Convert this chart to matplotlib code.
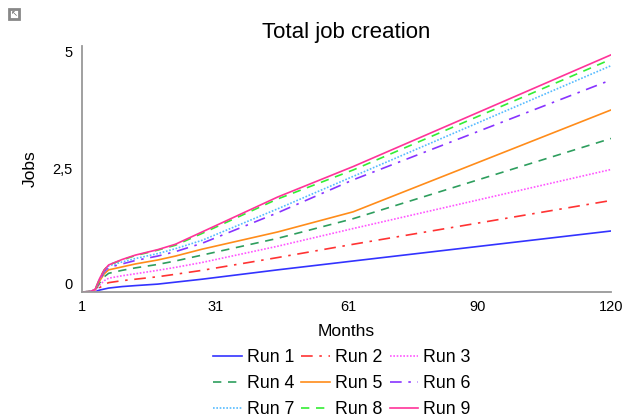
import matplotlib
matplotlib.use("Agg")
import matplotlib.pyplot as plt
from matplotlib.patches import Rectangle

plt.rcParams['font.family'] = ['Liberation Sans', 'DejaVu Sans']

months = [1, 3, 4, 5, 6, 7, 10, 13, 18, 22, 28, 45, 62, 120]
run1 = [0, 0.003, 0.01, 0.04, 0.06, 0.08, 0.11, 0.13, 0.16, 0.20, 0.26, 0.45, 0.63, 1.24]
run2 = [0, 0.005, 0.02, 0.09, 0.15, 0.19, 0.23, 0.26, 0.31, 0.36, 0.44, 0.70, 0.97, 1.86]
run3 = [0, 0.01, 0.03, 0.14, 0.23, 0.28, 0.33, 0.37, 0.44, 0.50, 0.60, 0.93, 1.29, 2.49]
run4 = [0, 0.01, 0.04, 0.19, 0.31, 0.38, 0.44, 0.49, 0.56, 0.63, 0.75, 1.09, 1.49, 3.12]
run5 = [0, 0.01, 0.05, 0.23, 0.37, 0.45, 0.51, 0.57, 0.65, 0.73, 0.87, 1.22, 1.63, 3.70]
run6 = [0, 0.01, 0.05, 0.25, 0.41, 0.50, 0.57, 0.64, 0.73, 0.82, 0.99, 1.61, 2.28, 4.31]
run7 = [0, 0.01, 0.06, 0.27, 0.43, 0.53, 0.61, 0.68, 0.78, 0.88, 1.05, 1.69, 2.35, 4.60]
run8 = [0, 0.01, 0.06, 0.28, 0.45, 0.55, 0.65, 0.74, 0.85, 0.95, 1.19, 1.89, 2.48, 4.73]
run9 = [0, 0.01, 0.06, 0.28, 0.45, 0.55, 0.66, 0.75, 0.86, 0.97, 1.22, 1.93, 2.55, 4.82]

labels = ["Run 1", "Run 2", "Run 3", "Run 4", "Run 5", "Run 6", "Run 7", "Run 8", "Run 9"]
series = [run1, run2, run3, run4, run5, run6, run7, run8, run9]
colors = ["#3333ff", "#ff3333", "#ff55ff", "#2e9e5e", "#ff8c1a", "#8833ff", "#55bbff", "#33ee33", "#ff3399"]
styles = ["-", (0, (7, 4, 1.5, 4)), (0, (1, 1)), (0, (5, 4)), "-", (0, (7, 4, 1.5, 4)), (0, (1, 1)), (0, (5, 4)), "-"]

xticks = [1, 31, 61, 90, 120]
yticks = [0, 2.5, 5]
yticklabels = ["0", "2,5", "5"]

fig = plt.figure(figsize=(6.24, 4.18), dpi=100)
ax = fig.add_axes([82/624, 1-292/418, (611-82)/624, (292-46)/418])

handles = []
for s, lab, c, ls in zip(series, labels, colors, styles):
    h, = ax.plot(months, s, color=c, linestyle=ls, linewidth=1.2, label=lab)
    handles.append(h)

ax.set_xlim(1, 120)
ax.set_ylim(0, 5)
ax.set_xticks(xticks)
ax.set_xticklabels([str(t) for t in xticks])
ax.set_yticks(yticks)
ax.set_yticklabels(yticklabels)
ax.tick_params(length=0, labelsize=10.5, colors="#000000")
ax.tick_params(axis='y', pad=7)
ax.tick_params(axis='x', pad=6)
ylab = ax.get_yticklabels()
ylab[0].set_va('bottom')
ylab[2].set_va('top')

for sp in ['top', 'right']:
    ax.spines[sp].set_visible(False)
for sp in ['left', 'bottom']:
    ax.spines[sp].set_color('#999999')
    ax.spines[sp].set_linewidth(1.3)

ax.set_title("Total job creation", fontsize=16, pad=6)
ax.set_xlabel("Months", fontsize=12.5, labelpad=7)
ax.set_ylabel("Jobs", fontsize=12.5, labelpad=10)

order = [0, 3, 6, 1, 4, 7, 2, 5, 8]
fig.legend([handles[i] for i in order], [labels[i] for i in order],
           loc='upper center', bbox_to_anchor=(342/624, 1-349/418), ncol=3,
           frameon=False, fontsize=12.8, handlelength=1.6, handletextpad=0.3,
           columnspacing=0.4, labelspacing=0.5, borderaxespad=0, borderpad=0)

# small corner icon
fig.patches.append(Rectangle((9/624, 1-19/418), 10/624, 10/418, transform=fig.transFigure,
                             fill=False, edgecolor='#888888', linewidth=2))
fig.text(14/624, 1-14/418, "\u2196", fontsize=6, color='#666666', ha='center', va='center',
         family=['DejaVu Sans'])

fig.savefig("out.png", dpi=100)
